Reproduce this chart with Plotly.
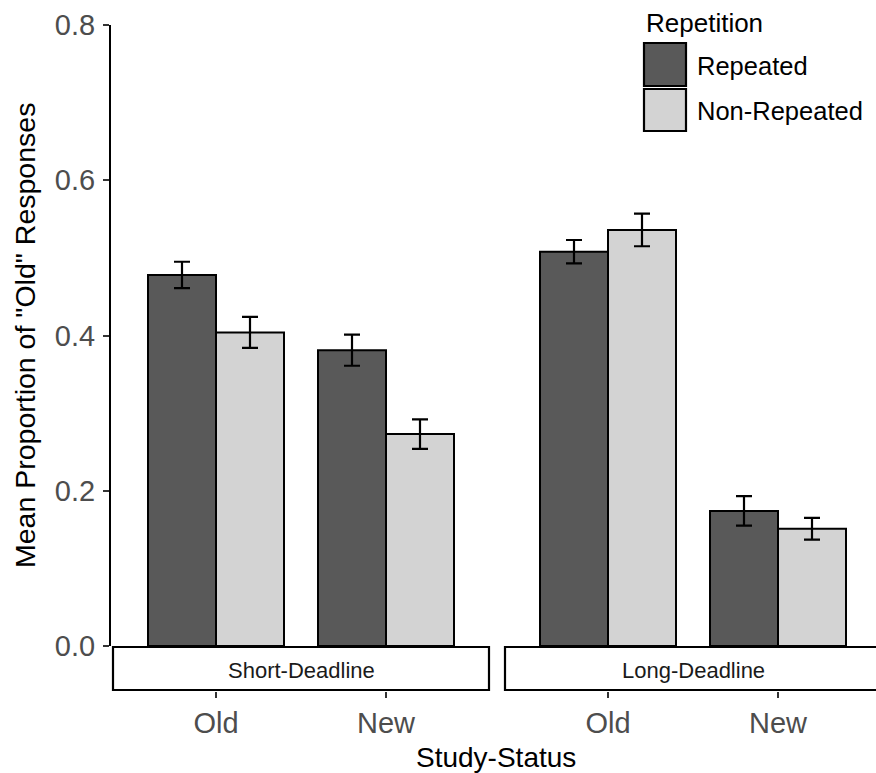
import plotly.graph_objects as go

status = ["Old", "New"]
deadlines = ["Short-Deadline", "Long-Deadline"]
groups = ["Repeated", "Non-Repeated"]
colors = {"Repeated": "#595959", "Non-Repeated": "#d3d3d3"}

means = {
    "Short-Deadline": {"Repeated": [0.478, 0.381], "Non-Repeated": [0.404, 0.273]},
    "Long-Deadline": {"Repeated": [0.508, 0.174], "Non-Repeated": [0.536, 0.151]},
}
errs = {
    "Short-Deadline": {"Repeated": [0.017, 0.020], "Non-Repeated": [0.020, 0.019]},
    "Long-Deadline": {"Repeated": [0.015, 0.019], "Non-Repeated": [0.021, 0.014]},
}

W, H = 876, 773
L, T, B, R = 111, 25, 82, 0
pw, ph = W - L - R, H - T - B
def px(x): return (x - L) / pw
def py(y): return (H - B - y) / ph

FONT = "Arial, Liberation Sans, sans-serif"
TICK = dict(size=29, color="#4d4d4d")
fig = go.Figure()
for i, d in enumerate(deadlines):
    xa = "x" if i == 0 else "x2"
    for g in groups:
        fig.add_trace(go.Bar(
            x=status, y=means[d][g], name=g, xaxis=xa, yaxis="y",
            marker=dict(color=colors[g], line=dict(color="black", width=2)),
            error_y=dict(type="data", array=errs[d][g], color="black", thickness=2.2, width=8),
            showlegend=False))

y0 = py(646)
xcommon = dict(anchor="free", position=0, showgrid=False, zeroline=False, showline=False,
               ticks="outside", ticklen=6, tickwidth=1.5, tickcolor="#333333",
               tickfont=TICK, ticklabelstandoff=0)
fig.update_layout(
    width=W, height=H, margin=dict(l=L, r=R, t=T, b=B),
    paper_bgcolor="white", plot_bgcolor="white",
    barmode="group", bargap=0.2, bargroupgap=0,
    font=dict(family=FONT, color="black"),
    yaxis=dict(domain=[y0, 1], range=[0, 0.8], tickvals=[0, 0.2, 0.4, 0.6, 0.8],
               ticktext=["0.0", "0.2", "0.4", "0.6", "0.8"], showgrid=False, zeroline=False,
               showline=True, linecolor="black", linewidth=2, ticks="outside", ticklen=6,
               tickwidth=1.5, tickcolor="#333333", tickfont=TICK, ticklabelstandoff=2,
               anchor="x"),
    xaxis=dict(domain=[0, px(489)], range=[-(216 - 111) / 170, (489 - 216) / 170], **xcommon),
    xaxis2=dict(domain=[px(505), 1], range=[-(608 - 505) / 170, (876 - 608) / 170], **xcommon),
)

shapes = []
ann = []
for (x0, x1), d in zip([(113, 489), (505, 882)], deadlines):
    shapes.append(dict(type="rect", xref="paper", yref="paper", x0=px(x0), x1=px(x1),
                       y0=py(690), y1=py(647), line=dict(color="black", width=2.2),
                       fillcolor="white", layer="above"))
    ann.append(dict(text=d, xref="paper", yref="paper", x=px((x0 + x1) / 2), y=py(670),
                    xanchor="center", yanchor="middle", showarrow=False,
                    font=dict(size=22, color="#1a1a1a")))

ann.append(dict(text="Study-Status", xref="paper", yref="paper", x=px(496), y=py(757),
                xanchor="center", yanchor="middle", showarrow=False, font=dict(size=28)))
ann.append(dict(text='Mean Proportion of "Old" Responses', xref="paper", yref="paper",
                x=px(25), y=py(336), textangle=-90, xanchor="center", yanchor="middle",
                showarrow=False, font=dict(size=28.5)))

# legend
ann.append(dict(text="Repetition", xref="paper", yref="paper", x=px(644), y=py(23),
                xanchor="left", yanchor="middle", showarrow=False, font=dict(size=26)))
for g, (ya, yb), yt in zip(groups, [(43, 86), (89, 131)], [66, 111]):
    shapes.append(dict(type="rect", xref="paper", yref="paper", x0=px(644), x1=px(686),
                       y0=py(yb), y1=py(ya), line=dict(color="black", width=2.2),
                       fillcolor=colors[g]))
    ann.append(dict(text=g, xref="paper", yref="paper", x=px(695), y=py(yt),
                    xanchor="left", yanchor="middle", showarrow=False, font=dict(size=25.5)))

fig.update_layout(shapes=shapes, annotations=ann)
fig.write_html("out.html")
